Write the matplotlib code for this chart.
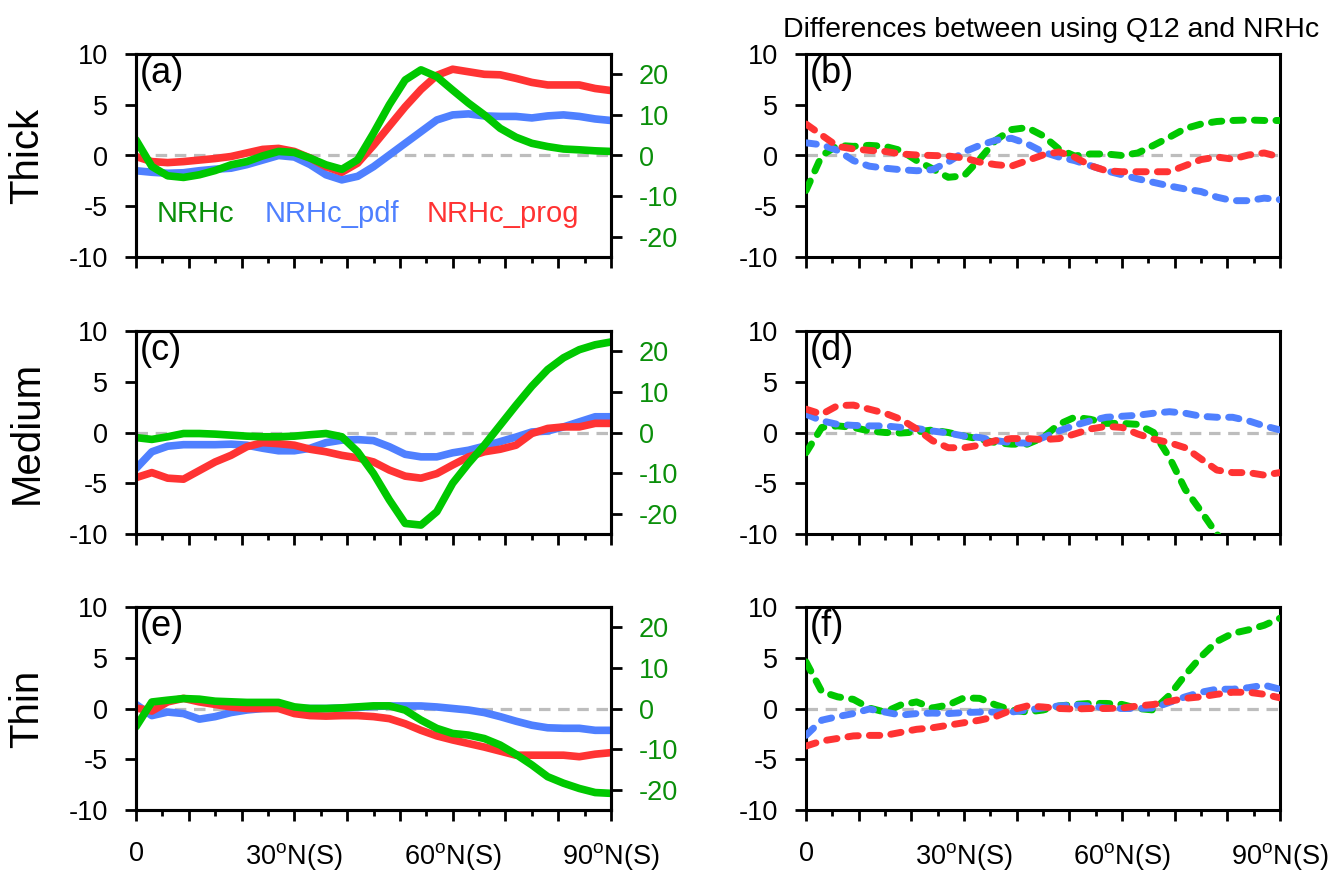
import matplotlib
matplotlib.use('Agg')
import matplotlib.pyplot as plt
import numpy as np

plt.rcParams['font.family'] = ['Liberation Sans', 'DejaVu Sans']
plt.rcParams['axes.unicode_minus'] = False
plt.rcParams['mathtext.fontset'] = 'custom'
plt.rcParams['mathtext.rm'] = 'Liberation Sans'

# latitude samples (deg N/S)
lat = np.arange(0, 91, 3)

# ---- left column: NRHc (right axis), NRHc_pdf, NRHc_prog
thick_nrhc = [3.85, -2.7, -5.0, -5.4, -4.75, -3.7, -2.3, -1.5, -0.1, 1.0, 0.75, -0.65, -2.3, -3.4, -1.05,
              5.5, 12.5, 18.6, 21.1, 19.4, 16.1, 12.9, 10.0, 6.7, 4.5, 3.0, 2.2, 1.6, 1.4, 1.15, 1.0]
thick_pdf = [-1.5, -1.65, -1.75, -1.7, -1.5, -1.35, -1.25, -0.9, -0.45, 0.0, -0.15, -0.9, -1.9, -2.4, -2.05,
             -1.1, 0.05, 1.2, 2.35, 3.5, 4.0, 4.1, 3.9, 3.85, 3.85, 3.7, 3.9, 4.0, 3.85, 3.6, 3.45]
thick_prog = [-0.1, -0.6, -0.7, -0.6, -0.45, -0.3, -0.1, 0.25, 0.6, 0.7, 0.4, -0.25, -1.1, -1.65, -0.75,
              1.0, 2.9, 4.8, 6.5, 7.9, 8.5, 8.25, 8.0, 7.95, 7.6, 7.2, 6.95, 6.95, 6.95, 6.6, 6.4]

medium_nrhc = [-1.25, -1.7, -1.05, -0.25, -0.25, -0.4, -0.65, -0.9, -1.05, -1.05, -0.9, -0.55, -0.25, -1.05, -4.75,
               -10.1, -16.6, -22.4, -22.8, -19.5, -12.5, -7.6, -3.1, 1.8, 6.7, 11.4, 15.5, 18.4, 20.4, 21.6, 22.3]
medium_pdf = [-3.55, -1.9, -1.35, -1.2, -1.2, -1.2, -1.15, -1.25, -1.55, -1.8, -1.8, -1.55, -1.0, -0.75, -0.7,
              -0.8, -1.4, -2.15, -2.4, -2.4, -2.0, -1.75, -1.35, -0.9, -0.45, 0.05, 0.15, 0.55, 1.05, 1.55, 1.55]
medium_prog = [-4.45, -3.95, -4.5, -4.6, -3.75, -2.9, -2.25, -1.4, -1.0, -1.1, -1.25, -1.65, -1.9, -2.25, -2.5,
               -2.9, -3.7, -4.3, -4.5, -4.05, -3.2, -2.4, -1.9, -1.65, -1.25, -0.1, 0.4, 0.55, 0.55, 0.9, 0.9]

thin_nrhc = [-4.5, 1.6, 2.05, 2.45, 2.3, 1.8, 1.65, 1.5, 1.5, 1.5, 0.4, 0.0, 0.0, 0.15, 0.4,
             0.65, 0.65, -0.4, -2.85, -4.9, -6.15, -6.55, -7.4, -9.0, -11.3, -13.9, -16.8, -18.4, -19.7, -20.7, -20.9]
thin_pdf = [0.4, -0.7, -0.35, -0.5, -1.05, -0.8, -0.4, -0.15, 0.0, 0.05, 0.0, 0.0, 0.0, 0.05, 0.1,
            0.2, 0.25, 0.25, 0.25, 0.15, 0.0, -0.15, -0.4, -0.8, -1.25, -1.65, -1.9, -1.95, -1.95, -2.15, -2.15]
thin_prog = [0.05, -0.25, 0.65, 1.0, 0.65, 0.4, 0.15, 0.0, 0.0, 0.0, -0.5, -0.7, -0.75, -0.7, -0.7,
             -0.8, -1.0, -1.5, -2.15, -2.7, -3.1, -3.45, -3.8, -4.2, -4.6, -4.6, -4.6, -4.6, -4.75, -4.5, -4.35]

# ---- right column: differences between using Q12 and NRHc
diff_thick_nrhc = [-3.45, 0.0, 1.0, 0.9, 1.0, 0.9, 0.5, -0.5, -1.3, -2.15, -2.0, -0.35, 1.5, 2.55, 2.75,
                   1.95, 0.65, -0.05, 0.15, 0.15, 0.0, 0.25, 1.0, 1.8, 2.65, 3.1, 3.35, 3.45, 3.5, 3.45, 3.45]
diff_thick_pdf = [1.25, 1.05, 0.5, -0.5, -1.05, -1.25, -1.4, -1.5, -1.4, -0.65, 0.35, 1.0, 1.5, 1.7, 1.15,
                  0.35, -0.15, -0.5, -1.0, -1.5, -1.9, -2.3, -2.65, -3.0, -3.3, -3.55, -4.1, -4.45, -4.45, -4.2, -4.35]
diff_thick_prog = [3.1, 2.0, 0.9, 0.65, 0.5, 0.4, 0.15, 0.05, 0.0, -0.05, -0.25, -0.65, -0.9, -1.05, -0.5,
                   0.05, 0.35, -0.15, -1.0, -1.5, -1.6, -1.6, -1.6, -1.6, -1.0, -0.4, -0.15, -0.35, 0.05, 0.25, -0.15]

diff_medium_nrhc = [-2.0, 0.5, 0.65, 0.5, 0.15, 0.0, -0.05, 0.05, 0.25, 0.0, -0.35, -0.65, -1.0, -1.15, -1.15,
                    -0.5, 0.8, 1.5, 1.3, 0.9, 0.9, 0.8, 0.0, -2.45, -5.6, -7.75, -10.0, -12.0, -14.0, -16.0, -17.0]
diff_medium_pdf = [1.8, 1.15, 0.8, 0.7, 0.65, 0.65, 0.5, 0.4, 0.15, -0.05, -0.35, -0.5, -0.8, -1.0, -1.05,
                   -0.5, 0.15, 0.7, 1.15, 1.5, 1.6, 1.7, 1.9, 2.05, 1.9, 1.6, 1.5, 1.5, 1.15, 0.65, 0.25]
diff_medium_prog = [2.3, 1.8, 2.65, 2.7, 2.3, 1.9, 1.3, 0.35, -0.8, -1.5, -1.5, -1.25, -0.8, -0.6, -0.6,
                    -0.7, -0.6, -0.15, 0.35, 0.6, 0.5, -0.15, -0.65, -1.0, -1.5, -2.6, -3.7, -3.95, -3.95, -4.2, -3.95]

diff_thin_nrhc = [4.6, 1.65, 1.15, 0.9, 0.05, -0.35, 0.35, 0.65, 0.05, 0.35, 1.05, 1.0, 0.35, -0.15, -0.35,
                  -0.15, 0.25, 0.4, 0.5, 0.5, 0.4, 0.0, -0.15, 1.3, 3.3, 5.1, 6.6, 7.4, 7.75, 8.2, 8.9]
diff_thin_pdf = [-2.65, -1.15, -0.8, -0.5, -0.05, -0.35, -0.65, -0.5, -0.45, -0.5, -0.4, -0.35, -0.35, -0.35, -0.15,
                 0.05, 0.25, 0.35, 0.25, 0.05, 0.0, 0.0, 0.05, 0.6, 1.15, 1.6, 1.9, 1.9, 2.05, 2.3, 1.9]
diff_thin_prog = [-3.7, -3.2, -2.95, -2.7, -2.65, -2.65, -2.35, -2.05, -1.9, -1.65, -1.4, -1.15, -0.8, -0.15, 0.25,
                  0.15, 0.0, -0.05, 0.0, 0.0, 0.05, 0.25, 0.4, 0.7, 1.0, 1.15, 1.4, 1.6, 1.6, 1.4, 1.05]

row_names = ['Thick', 'Medium', 'Thin']
panel_tags = [['(a)', '(b)'], ['(c)', '(d)'], ['(e)', '(f)']]
xtick_labels = ['0', '', '', r'30$^{\rm o}$N(S)', '', '', r'60$^{\rm o}$N(S)', '', '', r'90$^{\rm o}$N(S)']

left_data = [(thick_nrhc, thick_pdf, thick_prog),
             (medium_nrhc, medium_pdf, medium_prog),
             (thin_nrhc, thin_pdf, thin_prog)]
right_data = [(diff_thick_nrhc, diff_thick_pdf, diff_thick_prog),
              (diff_medium_nrhc, diff_medium_pdf, diff_medium_prog),
              (diff_thin_nrhc, diff_thin_pdf, diff_thin_prog)]

GREEN = '#00c800'
GREEN_TXT = '#0a8f0a'
BLUE = '#4f80ff'
RED = '#ff3333'
GREY = '#bdbdbd'

W, H = 1342, 872
fig = plt.figure(figsize=(W / 100, H / 100), dpi=100)

col_x = [136, 806]
col_w = [475, 474]
row_top = [54, 331, 607]
row_h = 203


def style(ax, bottom_row):
    ax.set_xlim(0, 90)
    ax.set_ylim(-10, 10)
    ax.set_xticks(np.arange(0, 91, 10))
    ax.set_xticks(np.arange(5, 90, 10), minor=True)
    ax.set_xticklabels(xtick_labels if bottom_row else [''] * 10)
    ax.set_yticks([-10, -5, 0, 5, 10])
    ax.tick_params(axis='both', which='major', direction='out', length=8, width=2,
                   labelsize=19.5, pad=12)
    ax.tick_params(axis='x', which='major', pad=14)
    ax.tick_params(axis='x', which='minor', direction='out', length=4.5, width=2)
    ax.tick_params(top=False, right=False)
    for s in ax.spines.values():
        s.set_linewidth(2.2)
    ax.axhline(0, color=GREY, lw=2.3, ls=(0, (3.6, 2.4)), zorder=1)


for r in range(3):
    bottom = 1 - (row_top[r] + row_h) / H
    # left panel: model results
    ax = fig.add_axes([col_x[0] / W, bottom, col_w[0] / W, row_h / H])
    style(ax, r == 2)
    nrhc, pdf, prog = left_data[r]
    ax.plot(lat, pdf, color=BLUE, lw=5.5, solid_capstyle='round', zorder=3)
    ax.plot(lat, prog, color=RED, lw=5.5, solid_capstyle='round', zorder=3)
    ax2 = ax.twinx()
    ax2.set_ylim(-25, 25)
    ax2.set_yticks([-20, -10, 0, 10, 20])
    ax2.tick_params(axis='y', direction='out', length=8, width=2, labelsize=19.5,
                    pad=12, labelcolor=GREEN_TXT)
    for s in ax2.spines.values():
        s.set_linewidth(2.2)
    ax2.plot(lat, nrhc, color=GREEN, lw=5.5, solid_capstyle='round')
    ax.text(0.008, 0.99, panel_tags[r][0], transform=ax.transAxes, ha='left', va='top', fontsize=26)
    if r == 0:
        ax.text(3.9, -5.8, 'NRHc', color=GREEN_TXT, fontsize=21, va='center')
        ax.text(24.4, -5.8, 'NRHc_pdf', color=BLUE, fontsize=21, va='center')
        ax.text(55.1, -5.8, 'NRHc_prog', color=RED, fontsize=21, va='center')

    # right panel: differences
    bx = fig.add_axes([col_x[1] / W, bottom, col_w[1] / W, row_h / H])
    style(bx, r == 2)
    dn, dp, dg = right_data[r]
    for vals, c in [(dn, GREEN), (dp, BLUE), (dg, RED)]:
        bx.plot(lat, vals, color=c, lw=5, ls=(0, (1.5, 1.6)), dash_capstyle='round', zorder=3)
    bx.text(0.008, 0.99, panel_tags[r][1], transform=bx.transAxes, ha='left', va='top', fontsize=26)

    fig.text(27 / W, 1 - (row_top[r] + row_h / 2) / H, row_names[r], rotation=90,
             ha='center', va='center', fontsize=29)

fig.text(1051 / W, 1 - 30 / H, 'Differences between using Q12 and NRHc', ha='center', va='center', fontsize=20.5)

fig.savefig('out.png', dpi=100)
